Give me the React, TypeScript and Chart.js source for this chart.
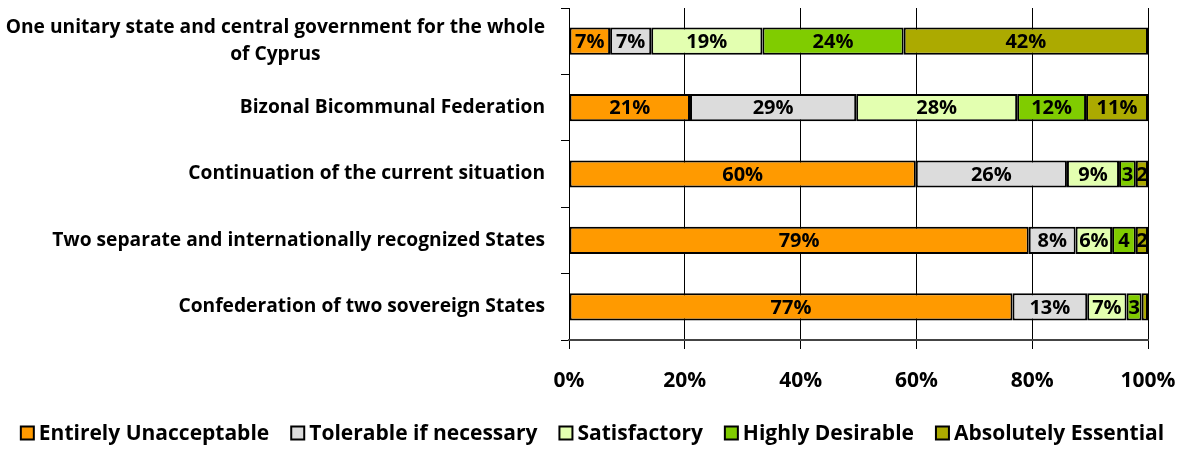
import React, { useEffect, useRef } from 'react';
import { Chart, registerables } from 'chart.js';

Chart.register(...registerables);

const categories: (string | string[])[] = [
  ['One unitary state and central government for the whole', 'of Cyprus'],
  'Bizonal Bicommunal Federation',
  'Continuation of the current situation',
  'Two separate and internationally recognized States',
  'Confederation of two sovereign States',
];

const seriesNames = [
  'Entirely Unacceptable',
  'Tolerable if necessary',
  'Satisfactory',
  'Highly Desirable',
  'Absolutely Essential',
];

const entirelyUnacceptable = [7.1, 20.9, 59.9, 79.4, 76.6];
const tolerableIfNecessary = [7.1, 28.7, 26.1, 8.1, 12.9];
const satisfactory = [19.2, 27.8, 9.0, 6.3, 6.8];
const highlyDesirable = [24.4, 11.9, 2.9, 4.1, 2.6];
const absolutelyEssential = [42.2, 10.7, 2.1, 2.1, 1.1];

const xTickLabels = ['0%', '20%', '40%', '60%', '80%', '100%'];

const colors = ['#FF9A00', '#DCDCDC', '#E3FFB0', '#80CC00', '#ACAA00'];

const FONT = '"Open Sans"';

const dataLabelPlugin = {
  id: 'dataLabels',
  afterDatasetsDraw(chart: any) {
    const ctx = chart.ctx;
    ctx.save();
    ctx.font = `bold 20px ${FONT}`;
    ctx.fillStyle = '#000';
    ctx.textAlign = 'center';
    ctx.textBaseline = 'middle';
    chart.data.datasets.forEach((ds: any, di: number) => {
      const meta = chart.getDatasetMeta(di);
      meta.data.forEach((bar: any, i: number) => {
        const v = ds.data[i];
        if (v < 1.5) return;
        const r = Math.round(v);
        const txt = v >= 5 ? `${r}%` : `${r}`;
        const cx = (bar.x + bar.base) / 2;
        ctx.fillText(txt, cx, bar.y + 1);
      });
    });
    ctx.restore();
  },
};

const yLabelPlugin = {
  id: 'yLabels',
  afterDraw(chart: any) {
    const ctx = chart.ctx;
    const yScale = chart.scales.y;
    const right = chart.chartArea.left - 24;
    ctx.save();
    ctx.font = `bold 19.2px ${FONT}`;
    ctx.fillStyle = '#000';
    ctx.textBaseline = 'middle';
    categories.forEach((lab, i) => {
      const y = yScale.getPixelForValue(i);
      if (Array.isArray(lab)) {
        const maxW = Math.max(...lab.map((l) => ctx.measureText(l).width));
        const cx = right - maxW / 2;
        ctx.textAlign = 'center';
        const lh = 27;
        const start = y - ((lab.length - 1) * lh) / 2;
        lab.forEach((l, k) => ctx.fillText(l, cx, start + k * lh));
      } else {
        ctx.textAlign = 'right';
        ctx.fillText(lab, right, y);
      }
    });
    ctx.restore();
  },
};

const legendPlugin = {
  id: 'customLegend',
  afterDraw(chart: any) {
    const ctx = chart.ctx;
    const box = 13;
    const textGap = 5;
    const itemGap = 22;
    const y = 433;
    ctx.save();
    ctx.font = `bold 21px ${FONT}`;
    ctx.textBaseline = 'middle';
    ctx.textAlign = 'left';
    const items = chart.data.datasets.map((ds: any) => ({
      label: ds.label,
      color: ds.backgroundColor,
      w: ctx.measureText(ds.label).width,
    }));
    const total =
      items.reduce((s: number, it: any) => s + box + textGap + it.w, 0) + itemGap * (items.length - 1);
    let x = (chart.width - total) / 2;
    items.forEach((it: any) => {
      ctx.fillStyle = it.color;
      ctx.fillRect(x, y - box / 2, box, box);
      ctx.strokeStyle = '#000';
      ctx.lineWidth = 2;
      ctx.strokeRect(x, y - box / 2, box, box);
      ctx.fillStyle = '#000';
      ctx.fillText(it.label, x + box + textGap, y + 1);
      x += box + textGap + it.w + itemGap;
    });
    ctx.restore();
  },
};

export default function App() {
  const ref = useRef<HTMLCanvasElement>(null);
  useEffect(() => {
    document.body.style.margin = '0';
    const series = [entirelyUnacceptable, tolerableIfNecessary, satisfactory, highlyDesirable, absolutelyEssential];
    const chart = new Chart(ref.current!, {
      type: 'bar',
      data: {
        labels: categories.map((c) => (Array.isArray(c) ? c.join(' ') : c)),
        datasets: series.map((d, i) => ({
          label: seriesNames[i],
          data: d,
          backgroundColor: colors[i],
          borderColor: '#000',
          borderWidth: 2,
          borderSkipped: false,
          barPercentage: 0.82,
          categoryPercentage: 0.5,
        })),
      },
      options: {
        indexAxis: 'y',
        responsive: false,
        animation: false,
        layout: { padding: { top: 8, right: 37, left: 0, bottom: 34 } },
        plugins: {
          tooltip: { enabled: false },
          legend: { display: false },
        },
        scales: {
          x: {
            stacked: true,
            min: 0,
            max: 100,
            ticks: {
              stepSize: 20,
              color: '#000',
              font: { family: 'Open Sans', size: 21, weight: 'bold' },
              padding: 19,
              callback: (_v: any, idx: number) => xTickLabels[idx],
            },
            grid: { color: '#000', lineWidth: 1, tickLength: 9, drawTicks: true },
            border: { color: '#444', width: 2 },
            afterFit: (scale: any) => {
              scale.height = 75;
              scale.paddingLeft = 0;
              scale.paddingRight = 0;
            },
          },
          y: {
            stacked: true,
            ticks: { display: false },
            grid: {
              color: '#000',
              drawOnChartArea: false,
              drawTicks: true,
              tickLength: 8,
              offset: true,
            },
            border: { display: false },
            afterFit: (scale: any) => {
              scale.width = 569;
            },
          },
        },
      },
      plugins: [dataLabelPlugin, yLabelPlugin, legendPlugin],
    } as any);
    return () => chart.destroy();
  }, []);
  return <canvas ref={ref} width={1185} height={449} />;
}
